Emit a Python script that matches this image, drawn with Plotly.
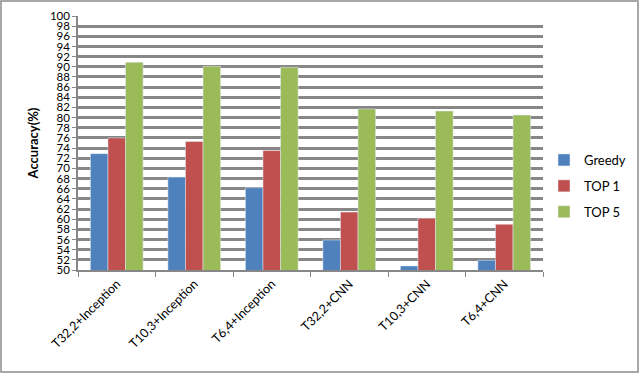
import plotly.graph_objects as go

# Data
categories = ["T32,2+Inception", "T10,3+Inception", "T6,4+Inception",
              "T32,2+CNN", "T10,3+CNN", "T6,4+CNN"]
greedy = [72.9, 68.3, 66.2, 55.9, 50.8, 51.9]
top1 = [76.0, 75.3, 73.5, 61.4, 60.2, 59.0]
top5 = [90.9, 90.1, 89.9, 81.7, 81.3, 80.5]
y_ticks = list(range(50, 101, 2))

fig = go.Figure()
fig.add_trace(go.Bar(x=categories, y=greedy, name="Greedy", marker_color="#4F81BD", legendgroup="a"))
fig.add_trace(go.Bar(x=categories, y=top1, name="TOP 1", marker_color="#C0504D", legendgroup="b"))
fig.add_trace(go.Bar(x=categories, y=top5, name="TOP 5", marker_color="#9BBB59", legendgroup="c"))

plot_l, plot_r, plot_t, plot_b = 78, 97, 16, 104
pw = 640 - plot_l - plot_r
ph = 374 - plot_t - plot_b

fig.update_layout(
    width=640, height=374,
    margin=dict(l=plot_l, r=plot_r, t=plot_t, b=plot_b, autoexpand=False),
    paper_bgcolor="white", plot_bgcolor="white",
    font=dict(family="Lato, Liberation Sans, sans-serif", size=12, color="black"),
    barmode="group", bargap=0.32, bargroupgap=0,
    legend=dict(x=(544 - plot_l) / pw, y=(270 - 186) / ph, xanchor="left", yanchor="middle",
                font=dict(size=13), tracegroupgap=6, itemwidth=30),
    showlegend=True,
    shapes=[dict(type="rect", xref="paper", yref="paper",
                 x0=(1 - plot_l) / pw, x1=(638 - plot_l) / pw,
                 y0=-(372 - plot_t - ph) / ph, y1=(ph + plot_t - 1) / ph,
                 line=dict(color="#8C8C8C", width=1.5))],
)
fig.update_yaxes(
    range=[50, 100], tickvals=y_ticks, ticktext=[str(v) for v in y_ticks],
    automargin=False,
    showgrid=True, gridcolor="#878787", gridwidth=2.5,
    showline=True, linecolor="#878787", linewidth=1.5,
    ticks="outside", ticklen=4, tickcolor="#878787",
    title=dict(text="<b>Accuracy(%)</b>", font=dict(size=13), standoff=8),
    tickfont=dict(size=11.5),
)
fig.update_xaxes(
    tickangle=-45, automargin=False,
    showline=True, linecolor="#878787", linewidth=1.5,
    ticks="outside", tickson="boundaries", ticklen=5, tickcolor="#878787",
    tickfont=dict(size=12.5),
)

fig.write_html("out.html", config={"displayModeBar": False},
               post_script="document.body.style.margin='0';")
